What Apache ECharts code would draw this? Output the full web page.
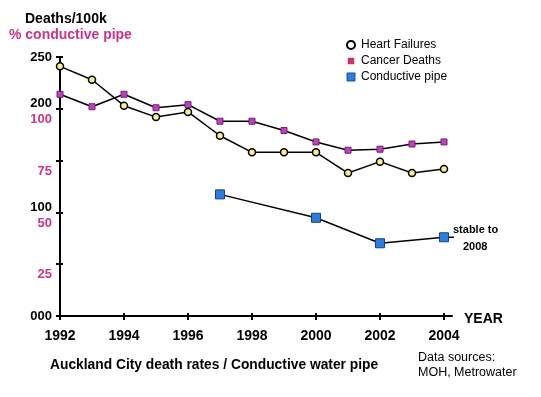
<!DOCTYPE html>
<html>
<head>
<meta charset="utf-8">
<script src="https://cdn.jsdelivr.net/npm/echarts@6/dist/echarts.min.js"></script>
<style>
    html, body {margin: 0; padding: 0; background: #fff;}
    #chart {width: 541px; height: 397px;}
</style>
</head>
<body>
<div id="chart"></div>
<script>
// 数据
var years = [1992, 1993, 1994, 1995, 1996, 1997, 1998, 1999, 2000, 2001, 2002, 2003, 2004];
var heartFailures = [241, 228, 203, 192, 197, 174, 158, 158, 158, 138, 149, 138, 142];
var cancerDeaths = [214, 202, 214, 201, 204, 188, 188, 179, 168, 160, 161, 166, 168];
var pipeYears = [1997, 2000, 2002, 2004];
var pipePercent = [58.7, 47.4, 35.1, 38];
var stableYears = [2004, 2005.66];
var yearTicks = [1992, 1994, 1996, 1998, 2000, 2002, 2004];
// 左轴刻度：死亡率标签（黑）与导电管百分比标签（紫）
var deathLabels = {0: '000', 100: '100', 200: '200', 250: '250'};
var pctLabels = {50: '25', 100: '50', 150: '75', 200: '100'};

function pairs(xs, ys) {
    return xs.map(function (x, i) { return [x, ys[i]]; });
}

var chart = echarts.init(document.getElementById('chart'));
var font = 'Liberation Sans, Arial, sans-serif';

var option = {
    animation: false,
    backgroundColor: '#fff',
    textStyle: {fontFamily: font},
    grid: {left: 60, right: 89, top: 57, bottom: 81},
    legend: {
        orient: 'vertical',
        left: 341,
        top: 34,
        itemWidth: 8,
        itemHeight: 8,
        itemGap: 4,
        textStyle: {fontSize: 12, color: '#000', fontFamily: font, padding: [0, 0, 0, 1]},
        data: [
            {name: 'Heart Failures', icon: 'circle', itemStyle: {color: '#fff', borderColor: '#000', borderWidth: 2}},
            {name: 'Cancer Deaths', icon: 'rect', itemStyle: {color: '#c83070', borderColor: '#fff', borderWidth: 1.5}},
            {name: 'Conductive pipe', icon: 'rect', itemStyle: {color: '#2a7fdc', borderColor: '#1a4f90', borderWidth: 1}}
        ]
    },
    xAxis: [{
        type: 'value',
        min: 1992,
        max: 2004.25,
        interval: 2,
        name: '{e|}\n{y|YEAR}',
        nameGap: 12,
        nameTextStyle: {
            rich: {
                e: {lineHeight: 6},
                y: {lineHeight: 14, fontSize: 14, fontWeight: 'bold', color: '#000', fontFamily: font}
            }
        },
        splitLine: {show: false},
        axisLine: {lineStyle: {color: '#000', width: 2}},
        axisTick: {length: 4, lineStyle: {color: '#000', width: 2}, customValues: yearTicks},
        axisLabel: {
            customValues: yearTicks,
            margin: 13,
            fontSize: 14,
            fontWeight: 'bold',
            color: '#000',
            formatter: function (v) { return String(v); }
        }
    }, {
        type: 'value',
        min: 1992,
        max: 2004.25,
        position: 'bottom',
        splitLine: {show: false},
        axisLine: {show: false},
        axisTick: {inside: true, length: 3, lineStyle: {color: '#000', width: 2}, customValues: yearTicks},
        axisLabel: {show: false}
    }],
    yAxis: [{
        type: 'value',
        min: 0,
        max: 250,
        interval: 50,
        splitLine: {show: false},
        axisLine: {show: true, lineStyle: {color: '#000', width: 2}},
        axisTick: {show: true, length: 4, lineStyle: {color: '#000', width: 2}},
        axisLabel: {
            margin: 8,
            formatter: function (v) {
                var b = deathLabels[v], m = pctLabels[v];
                if (b && m) return '{b|' + b + '}\n{m|' + m + '}';
                if (m) return '{e|}\n{m|' + m + '}';
                if (b) return '{s|' + b + '}';
                return '';
            },
            rich: {
                b: {fontSize: 13, fontWeight: 'bold', color: '#000', lineHeight: 22, fontFamily: font},
                s: {fontSize: 13, fontWeight: 'bold', color: '#000', lineHeight: 14, fontFamily: font},
                m: {fontSize: 13, fontWeight: 'bold', color: '#cc3388', lineHeight: 10, fontFamily: font},
                e: {lineHeight: 21}
            }
        }
    }, {
        type: 'value',
        min: 0,
        max: 125,
        interval: 25,
        position: 'left',
        splitLine: {show: false},
        axisLine: {show: false},
        axisTick: {show: true, inside: true, length: 3, lineStyle: {color: '#000', width: 2}},
        axisLabel: {show: false}
    }],
    series: [{
        name: 'Heart Failures',
        type: 'line',
        data: pairs(years, heartFailures),
        symbol: 'circle',
        symbolSize: 7,
        lineStyle: {color: '#000', width: 1.5},
        itemStyle: {color: '#f4f08a', borderColor: '#000', borderWidth: 1.5},
        z: 3
    }, {
        name: 'Cancer Deaths',
        type: 'line',
        data: pairs(years, cancerDeaths),
        symbol: 'rect',
        symbolSize: 6,
        lineStyle: {color: '#000', width: 1.5},
        itemStyle: {color: '#c040c0', borderColor: '#702070', borderWidth: 1},
        z: 3
    }, {
        name: 'Conductive pipe',
        type: 'line',
        yAxisIndex: 1,
        data: pairs(pipeYears, pipePercent),
        symbol: 'rect',
        symbolSize: 9,
        lineStyle: {color: '#000', width: 1.5},
        itemStyle: {color: '#2a7fdc', borderColor: '#1a3f80', borderWidth: 1},
        z: 4
    }, {
        name: 'stable',
        type: 'line',
        yAxisIndex: 1,
        clip: false,
        data: pairs(stableYears, [pipePercent[3], pipePercent[3]]),
        symbol: 'none',
        lineStyle: {color: '#000', width: 1.5},
        z: 2
    }],
    graphic: [
        {type: 'text', left: 25, top: 12, style: {text: 'Deaths/100k', font: 'bold 14px ' + font, fill: '#000'}},
        {type: 'text', left: 9, top: 28, style: {text: '% conductive pipe', font: 'bold 14px ' + font, fill: '#cc3388'}},
        {type: 'text', left: 453, top: 224, style: {text: 'stable to', font: 'bold 11px ' + font, fill: '#000'}},
        {type: 'text', left: 463, top: 241, style: {text: '2008', font: 'bold 11px ' + font, fill: '#000'}},
        {type: 'text', left: 50, top: 358, style: {text: 'Auckland City death rates / Conductive water pipe', font: 'bold 13.8px ' + font, fill: '#000'}},
        {type: 'text', left: 418, top: 351, style: {text: 'Data sources:', font: '12.5px ' + font, fill: '#000'}},
        {type: 'text', left: 418, top: 366, style: {text: 'MOH, Metrowater', font: '12.5px ' + font, fill: '#000'}}
    ]
};
chart.setOption(option);
</script>
</body>
</html>
